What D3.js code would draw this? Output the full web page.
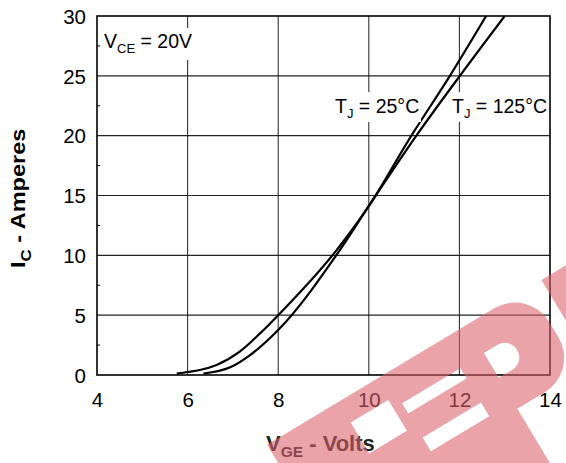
<!DOCTYPE html>
<html><head><meta charset="utf-8">
<script src="https://cdn.jsdelivr.net/npm/d3@7"></script>
<style>body{margin:0;background:#fff}svg{display:block;font-family:"Liberation Sans",Arial,sans-serif}</style>
</head><body><svg id="c" width="566" height="463"></svg>
<script>
// ---- data ----
const xTicks = [4, 6, 8, 10, 12, 14];
const yTicks = [0, 5, 10, 15, 20, 25, 30];
const yMinorTicks = [2.5, 7.5, 12.5, 17.5, 22.5, 27.5];
// Tj = 25°C
const vge25 = [5.76, 6.0, 6.27, 6.64, 7.15, 7.6, 8.0, 9.29, 9.98, 10.94, 11.79, 12.59];
const ic25  = [0.12, 0.25, 0.42, 0.84, 1.95, 3.48, 5.0, 10.44, 14.0, 20.0, 25.0, 30.0];
// Tj = 125°C
const vge125 = [6.35, 6.94, 7.38, 8.0, 9.36, 9.98, 11.05, 12.01, 13.0];
const ic125  = [0.12, 0.64, 1.67, 3.76, 10.44, 14.0, 20.0, 25.0, 30.0];

const svg = d3.select("#c");
const L = 97, T = 16, R = 550, B = 375;
const x = d3.scaleLinear().domain([4, 14]).range([L, R]);
const y = d3.scaleLinear().domain([0, 30]).range([B, T]);

// grid
const g = svg.append("g");
g.selectAll("line.vx").data(xTicks.slice(1, -1)).join("line")
  .attr("x1", d => x(d)).attr("x2", d => x(d)).attr("y1", T).attr("y2", B)
  .attr("stroke", "#333").attr("stroke-width", 1.1);
g.selectAll("line.hy").data(yTicks.slice(1, -1)).join("line")
  .attr("x1", L).attr("x2", R).attr("y1", d => y(d)).attr("y2", d => y(d))
  .attr("stroke", "#222").attr("stroke-width", 1.1);

// axes
const xAxis = d3.axisBottom(x).tickValues(xTicks).tickSize(0).tickPadding(17).tickFormat(d3.format("d"));
const yAxis = d3.axisLeft(y).tickValues(yTicks).tickSize(0).tickPadding(11).tickFormat(d3.format("d"));
const gx = svg.append("g").attr("transform", `translate(0,${B})`).call(xAxis);
const gy = svg.append("g").attr("transform", `translate(${L},0)`).call(yAxis);
[gx, gy].forEach(a => {
  a.select(".domain").remove();
  a.selectAll("text").attr("font-size", 20.5).attr("fill", "#000").attr("font-family", "Liberation Sans, Arial, sans-serif");
});
gy.selectAll("text").attr("dy", "0.35em");
// minor ticks
svg.append("g").selectAll("line").data(yMinorTicks).join("line")
  .attr("x1", L).attr("x2", L + 3).attr("y1", d => y(d)).attr("y2", d => y(d))
  .attr("stroke", "#000").attr("stroke-width", 1);

// frame
svg.append("rect").attr("x", L).attr("y", T).attr("width", R - L).attr("height", B - T)
  .attr("fill", "none").attr("stroke", "#000").attr("stroke-width", 1.6);

// curves
svg.append("clipPath").attr("id", "clip").append("rect")
  .attr("x", L).attr("y", T).attr("width", R - L).attr("height", B - T);
const line = d3.line().x(d => x(d[0])).y(d => y(d[1])).curve(d3.curveMonotoneX);
const curves = svg.append("g").attr("clip-path", "url(#clip)");
[[vge25, ic25], [vge125, ic125]].forEach(([vs, is]) => {
  curves.append("path").datum(vs.map((v, i) => [v, is[i]])).attr("d", line)
    .attr("fill", "none").attr("stroke", "#000").attr("stroke-width", 2.2).attr("stroke-linejoin", "round");
});

// annotation helper
function label(px, py, main, sub, rest, fs, subfs, bold) {
  const t = svg.append("text").attr("x", px).attr("y", py).attr("font-size", fs)
    .attr("font-weight", bold ? "bold" : "normal").attr("fill", "#000");
  t.append("tspan").text(main);
  t.append("tspan").attr("font-size", subfs).attr("dy", subfs * 0.38).text(sub);
  t.append("tspan").attr("dy", -subfs * 0.38).text(rest);
  return t;
}
svg.append("rect").attr("x", 101).attr("y", 28).attr("width", 88).attr("height", 32).attr("fill", "#fff");
svg.append("rect").attr("x", 333).attr("y", 92).attr("width", 88).attr("height", 30).attr("fill", "#fff");
svg.append("rect").attr("x", 450).attr("y", 92).attr("width", 98).attr("height", 30).attr("fill", "#fff");
label(104, 48, "V", "CE", " = 20V", 19.5, 13, false);
label(335, 113, "T", "J", " = 25°C", 19.5, 13, false);
label(452, 113, "T", "J", " = 125°C", 19.5, 13, false);

// axis titles
label(266, 451, "V", "GE", " - Volts", 22, 15.5, true).attr("fill", "#222");
label(0, 0, "I", "C", " - Amperes", 21, 15, true)
  .attr("transform", "translate(25,268) rotate(-90) scale(1.12,1)");

// watermark (decorative logo, drawn in its own rotated frame)
const wm = [
  "M-15,0 L250,0 A40,40 0 0 1 290,40 L290,58 A40,40 0 0 1 250,98 L218,98 L218,300 L-15,300 Z",
  "M122,34 L190,34 L190,46 L122,46 Z",
  "M122,74 L190,74 L190,90 L122,90 Z",
  "M68,24 L112,24 L112,60 L68,60 Z",
  "M218,33 L234,33 A14,14 0 0 1 248,47 L248,48 A14,14 0 0 1 234,62 L218,62 Z",
  "M305,0 L380,0 L380,300 L305,300 Z"
].join(" ");
svg.append("path").attr("d", wm).attr("fill-rule", "evenodd")
  .attr("transform", "translate(280,437) rotate(-31)")
  .attr("fill", "#d9616b").attr("opacity", 0.58);
</script></body></html>
